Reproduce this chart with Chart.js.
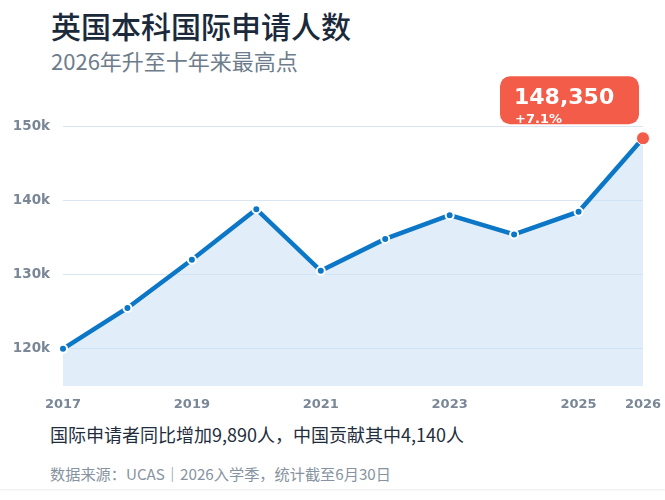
<!DOCTYPE html>
<html lang="zh-CN">
<head>
<meta charset="utf-8">
<title>英国本科国际申请人数</title>
<script src="https://cdn.jsdelivr.net/npm/chart.js@4"></script>
<style>
  html, body { margin: 0; padding: 0; background: #fff; }
  body { width: 665px; height: 500px; position: relative; overflow: hidden;
         font-family: "Noto Sans CJK SC", "Noto Sans", sans-serif; }
  .card { position: absolute; left: 0; top: 0; width: 665px; height: 489px;
          background: #fff; box-shadow: 0 1px 2px rgba(0,0,0,0.08); }
  .title { position: absolute; left: 51px; top: 3px; font-size: 30px; color: #1b2a3a;
           font-weight: 500; white-space: nowrap; }
  .subtitle { position: absolute; left: 51px; top: 44px; font-size: 22px; color: #6e7d8c;
              white-space: nowrap; }
  .chart-wrap { position: absolute; left: 0; top: 70px; width: 665px; height: 350px; }
  .note { position: absolute; left: 50px; top: 421px; font-size: 18px; color: #1f2d3d;
          white-space: nowrap; }
  .source { position: absolute; left: 50px; top: 462px; font-size: 15.2px; color: #8793a0;
            white-space: nowrap; }
</style>
</head>
<body>
<div class="card"></div>
<div class="title">英国本科国际申请人数</div>
<div class="subtitle">2026年升至十年来最高点</div>
<div class="chart-wrap"><canvas id="applicantsChart"></canvas></div>
<div class="note">国际申请者同比增加9,890人，中国贡献其中4,140人</div>
<div class="source">数据来源：UCAS｜2026入学季，统计截至6月30日</div>

<script>
// Data
const years = ['2017', '2018', '2019', '2020', '2021', '2022', '2023', '2024', '2025', '2026'];
const applicants = [120000, 125500, 132000, 138800, 130500, 134800, 138000, 135400, 138460, 148350];
const yTickValues = [120000, 130000, 140000, 150000];
const shownYears = ['2017', '2019', '2021', '2023', '2025', '2026'];

const blue = '#0b77c6';
const red = '#f25c48';
const tickGray = '#7a8797';

const lastIdx = applicants.length - 1;
const growth = (applicants[lastIdx] - applicants[lastIdx - 1]) / applicants[lastIdx - 1] * 100;

// red callout above the latest point
const calloutPlugin = {
  id: 'callout',
  afterDatasetsDraw(chart) {
    const ctx = chart.ctx;
    const pt = chart.getDatasetMeta(0).data[lastIdx];
    const w = 139, h = 48;
    const x = pt.x - 4 - w, y = pt.y - 14 - h;
    ctx.save();
    ctx.beginPath();
    ctx.roundRect(x, y, w, h, 10);
    ctx.fillStyle = red;
    ctx.fill();
    ctx.clip();
    ctx.fillStyle = '#fff';
    ctx.textBaseline = 'alphabetic';
    ctx.font = 'bold 22px "DejaVu Sans"';
    ctx.fillText(applicants[lastIdx].toLocaleString('en-US'), x + 14, y + 28);
    ctx.font = 'bold 13px "DejaVu Sans"';
    ctx.fillText('+' + growth.toFixed(1) + '%', x + 15, y + 47);
    ctx.restore();
  }
};

const pointColors = applicants.map((v, i) => i === lastIdx ? red : blue);
const pointRadii = applicants.map((v, i) => i === lastIdx ? 6.5 : 4);
const pointBorders = applicants.map((v, i) => i === lastIdx ? 1 : 2);

new Chart(document.querySelector('#applicantsChart'), {
  type: 'line',
  data: {
    labels: years,
    datasets: [{
      data: applicants,
      borderColor: blue,
      borderWidth: 4.5,
      backgroundColor: 'rgba(205, 227, 245, 0.6)',
      fill: 'start',
      tension: 0,
      pointBackgroundColor: pointColors,
      pointBorderColor: '#fff',
      pointBorderWidth: pointBorders,
      pointRadius: pointRadii,
      pointHoverRadius: pointRadii
    }]
  },
  options: {
    responsive: true,
    maintainAspectRatio: false,
    animation: false,
    layout: { padding: { top: 56, right: 22, left: 0, bottom: 0 } },
    plugins: {
      legend: { display: false },
      tooltip: { enabled: false }
    },
    scales: {
      x: {
        offset: false,
        grid: { display: false, drawTicks: false },
        border: { display: false },
        afterFit: axis => { axis.height = 34; axis.paddingLeft = 0; axis.paddingRight = 0; },
        ticks: {
          autoSkip: false,
          maxRotation: 0,
          padding: 11,
          color: tickGray,
          font: { family: 'DejaVu Sans', size: 13, weight: 'bold' },
          callback: (value, i) => shownYears.includes(years[i]) ? years[i] : ''
        }
      },
      y: {
        min: 115000,
        max: 150000,
        grid: { color: '#d9e6f1', lineWidth: 1, drawTicks: false },
        border: { display: false },
        afterFit: axis => { axis.width = 63; axis.paddingTop = 0; axis.paddingBottom = 0; },
        afterBuildTicks: axis => { axis.ticks = yTickValues.map(v => ({ value: v })); },
        ticks: {
          padding: 13,
          color: tickGray,
          font: { family: 'DejaVu Sans', size: 13.5, weight: 'bold' },
          callback: value => (value / 1000) + 'k'
        }
      }
    }
  },
  plugins: [calloutPlugin]
});
</script>
</body>
</html>
